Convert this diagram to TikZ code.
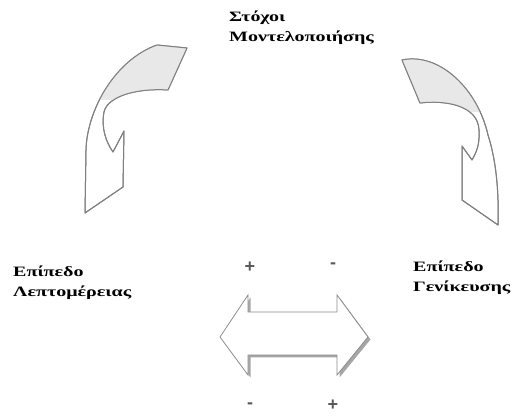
\documentclass[tikz,border=0pt]{standalone}
\usepackage{fontspec}
\newfontfamily\grk{Liberation Serif}[FakeStretch=1.4]
\setsansfont{Liberation Sans}
\tikzset{
  lbl/.style={font=\grk\bfseries\fontsize{14.3}{16}\selectfont, inner sep=0pt, anchor=base west, text=black},
  sgn/.style={font=\sffamily\bfseries\fontsize{18}{20}\selectfont, inner sep=0pt, text=black!65},
  arr/.style={draw=black!50, line width=1pt, line join=round, fill=white},
  shade/.style={fill=blue!3!black!9},
}
\begin{document}
\begin{tikzpicture}[x=1pt,y=-1pt]
\useasboundingbox (0,0) rectangle (515,417);
% texts
\node[lbl] (t1a) at (229,22) {Στόχοι};
\node[lbl] (t1b) at (229,42) {Μοντελοποιήσης};
\node[lbl] (t2a) at (13,277) {Επίπεδο};
\node[lbl] (t2b) at (13,297) {Λεπτομέρειας};
\node[lbl] (t3a) at (413,272) {Επίπεδο};
\node[lbl] (t3b) at (413,292) {Γενίκευσης};
% left curved arrow
\def\leftarr{(157,45) -- (187,48) -- (168,90) .. controls (140,88) and (108,95) .. (104,112) .. controls (101,128) and (106,142) .. (113,152) -- (124,131) -- (123,187) -- (85,213) -- (86,150) .. controls (87,110) and (115,60) .. (157,45) -- cycle}
\path[arr] \leftarr;
\begin{scope}
\clip (60,30) rectangle (200,100);
\path[shade] \leftarr;
\end{scope}
\draw[arr,fill=none] \leftarr;
% right curved arrow
\def\rightarr{(402,60) .. controls (440,52) and (478,90) .. (488,135) .. controls (496,160) and (499,190) .. (498,225) -- (462,200) -- (462,146) -- (472,160) .. controls (476,153) and (480,145) .. (479,130) .. controls (478,105) and (445,100) .. (420,103) -- cycle}
\path[arr] \rightarr;
\begin{scope}
\clip (390,40) rectangle (510,112);
\path[shade] \rightarr;
\end{scope}
\draw[arr,fill=none] \rightarr;
% double arrow
\def\dblarr{(220,337) -- (248,295) -- (248,312) -- (337,312) -- (337,295) -- (368,337) -- (337,375) -- (337,355) -- (248,355) -- (248,375) -- cycle}
\fill[black!35, shift={(2.5,2.5)}] \dblarr;
\draw[draw=black!45, line width=0.8pt, fill=white] \dblarr;
% signs
\node[sgn] (p1) at (250,267) {+};
\node[sgn] (m1) at (333,266) {-};
\node[sgn] (m2) at (250,406) {-};
\node[sgn] (p2) at (333,405) {+};
\end{tikzpicture}
\end{document}
